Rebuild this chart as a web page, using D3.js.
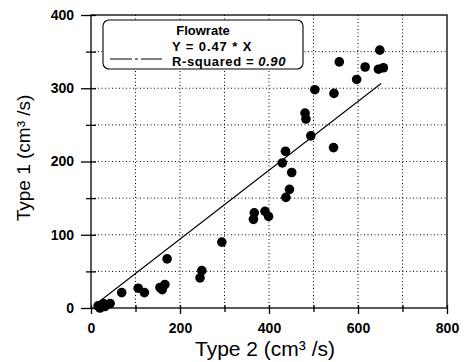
<!DOCTYPE html>
<html>
<head>
<meta charset="utf-8">
<script src="https://cdn.jsdelivr.net/npm/d3@7"></script>
<style>
  body { margin: 0; background: #fff; }
  text { font-family: "Liberation Sans", Arial, sans-serif; fill: #000; }
</style>
</head>
<body>
<div id="chart"></div>
<script>
var svgWidth = 466;
var svgHeight = 362;

var margin = { top: 15, right: 19, bottom: 54, left: 91 };
var width = svgWidth - margin.left - margin.right;
var height = svgHeight - margin.top - margin.bottom;

// data: Type 2 (x) vs Type 1 (y)
var type2 = [16, 20, 28, 31, 43, 69, 106, 120, 155, 160, 166, 171, 245, 249, 294,
  365, 367, 391, 399, 430, 437, 438, 446, 451, 481, 483, 494, 503, 545, 546,
  558, 597, 616, 646, 649, 657];
var type1 = [3, 0, 6, 2, 6, 21, 27, 21, 28, 25, 32, 67, 41, 51, 90,
  121, 130, 132, 125, 198, 214, 151, 162, 185, 266, 258, 235, 298, 219, 293,
  336, 312, 329, 326, 352, 328];
var fitSlope = 0.47;
var fitRange = [10, 652];
var xTicks = [0, 200, 400, 600, 800];
var yTicks = [0, 100, 200, 300, 400];
var legendLines = ["Flowrate", "Y = 0.47 * X", "R-squared = "];

var svg = d3.select("#chart").append("svg")
  .attr("width", svgWidth)
  .attr("height", svgHeight);

var chartGroup = svg.append("g")
  .attr("transform", "translate(" + margin.left + "," + margin.top + ")");

var x = d3.scaleLinear().domain([0, 800]).range([0, width]);
var y = d3.scaleLinear().domain([0, 400]).range([height, 0]);

// dotted grid
chartGroup.append("g").selectAll("line")
  .data(d3.range(100, 800, 100))
  .enter().append("line")
  .attr("x1", d => x(d)).attr("x2", d => x(d))
  .attr("y1", 0).attr("y2", height)
  .attr("stroke", "#000").attr("stroke-width", 1)
  .attr("stroke-dasharray", "1,2.5");

chartGroup.append("g").selectAll("line")
  .data(d3.range(50, 400, 50))
  .enter().append("line")
  .attr("x1", 0).attr("x2", width)
  .attr("y1", d => y(d)).attr("y2", d => y(d))
  .attr("stroke", "#000").attr("stroke-width", 1)
  .attr("stroke-dasharray", "1,2.5");

// frame
chartGroup.append("rect")
  .attr("width", width).attr("height", height)
  .attr("fill", "none").attr("stroke", "#000").attr("stroke-width", 1.3);

// axes
var xAxis = chartGroup.append("g")
  .attr("transform", "translate(0," + height + ")")
  .call(d3.axisBottom(x).tickValues(xTicks).tickSize(6).tickPadding(9));
var xMinor = chartGroup.append("g")
  .attr("transform", "translate(0," + height + ")")
  .call(d3.axisBottom(x).tickValues(d3.range(100, 800, 200)).tickSize(4).tickFormat(""));
var yAxis = chartGroup.append("g")
  .call(d3.axisLeft(y).tickValues(yTicks).tickSize(10).tickPadding(7));
var yMinor = chartGroup.append("g")
  .call(d3.axisLeft(y).tickValues(d3.range(50, 400, 100)).tickSize(5).tickFormat(""));

[xAxis, xMinor, yAxis, yMinor].forEach(function(a) {
  a.select(".domain").remove();
  a.selectAll("line").attr("stroke", "#000").attr("stroke-width", 1.3);
});
// ticks cross the frame a little
xAxis.selectAll("line").attr("y1", -3);
xMinor.selectAll("line").attr("y1", -3);
yAxis.selectAll("line").attr("x1", 5);
yMinor.selectAll("line").attr("x1", 5);

[xAxis, yAxis].forEach(function(a) {
  a.selectAll("text")
    .style("font-size", "14px")
    .style("font-weight", "bold")
    .style("font-family", "'Liberation Sans', Arial, sans-serif")
    .attr("fill", "#000");
});

// fit line
chartGroup.append("line")
  .attr("x1", x(fitRange[0])).attr("y1", y(fitRange[0] * fitSlope))
  .attr("x2", x(fitRange[1])).attr("y2", y(fitRange[1] * fitSlope))
  .attr("stroke", "#000").attr("stroke-width", 1.1);

// points
chartGroup.selectAll("circle")
  .data(type2)
  .enter()
  .append("circle")
  .attr("cx", d => x(d))
  .attr("cy", (d, i) => y(type1[i]))
  .attr("r", 4.8)
  .attr("fill", "#000");

// legend
var legend = chartGroup.append("g");
legend.append("rect")
  .attr("x", 12).attr("y", 5)
  .attr("width", 200).attr("height", 49)
  .attr("rx", 6)
  .attr("fill", "#fff").attr("stroke", "#000").attr("stroke-width", 1.1);
legend.append("line")
  .attr("x1", 19).attr("x2", 71)
  .attr("y1", 44).attr("y2", 44)
  .attr("stroke", "#000").attr("stroke-width", 1.1)
  .attr("stroke-dasharray", "22,3,3,3");
legend.append("text")
  .attr("x", 112).attr("y", 20)
  .attr("text-anchor", "middle")
  .style("font-size", "13px").style("font-weight", "bold")
  .text(legendLines[0]);
legend.append("text")
  .attr("x", 81).attr("y", 36)
  .style("font-size", "13px").style("font-weight", "bold")
  .style("letter-spacing", "0.9px")
  .text(legendLines[1]);
var r2 = legend.append("text")
  .attr("x", 81).attr("y", 51)
  .style("font-size", "13px").style("font-weight", "bold")
  .style("letter-spacing", "0.6px")
  .text(legendLines[2]);
r2.append("tspan").style("font-style", "italic").text("0.90");

// axis titles
svg.append("text")
  .attr("x", margin.left + width / 2 - 4)
  .attr("y", 356)
  .attr("text-anchor", "middle")
  .style("font-size", "21px")
  .text("Type 2 (cm³ /s)");

svg.append("text")
  .attr("transform", "translate(30,158) rotate(-90)")
  .attr("text-anchor", "middle")
  .style("font-size", "19px")
  .text("Type 1 (cm³ /s)");
</script>
</body>
</html>
